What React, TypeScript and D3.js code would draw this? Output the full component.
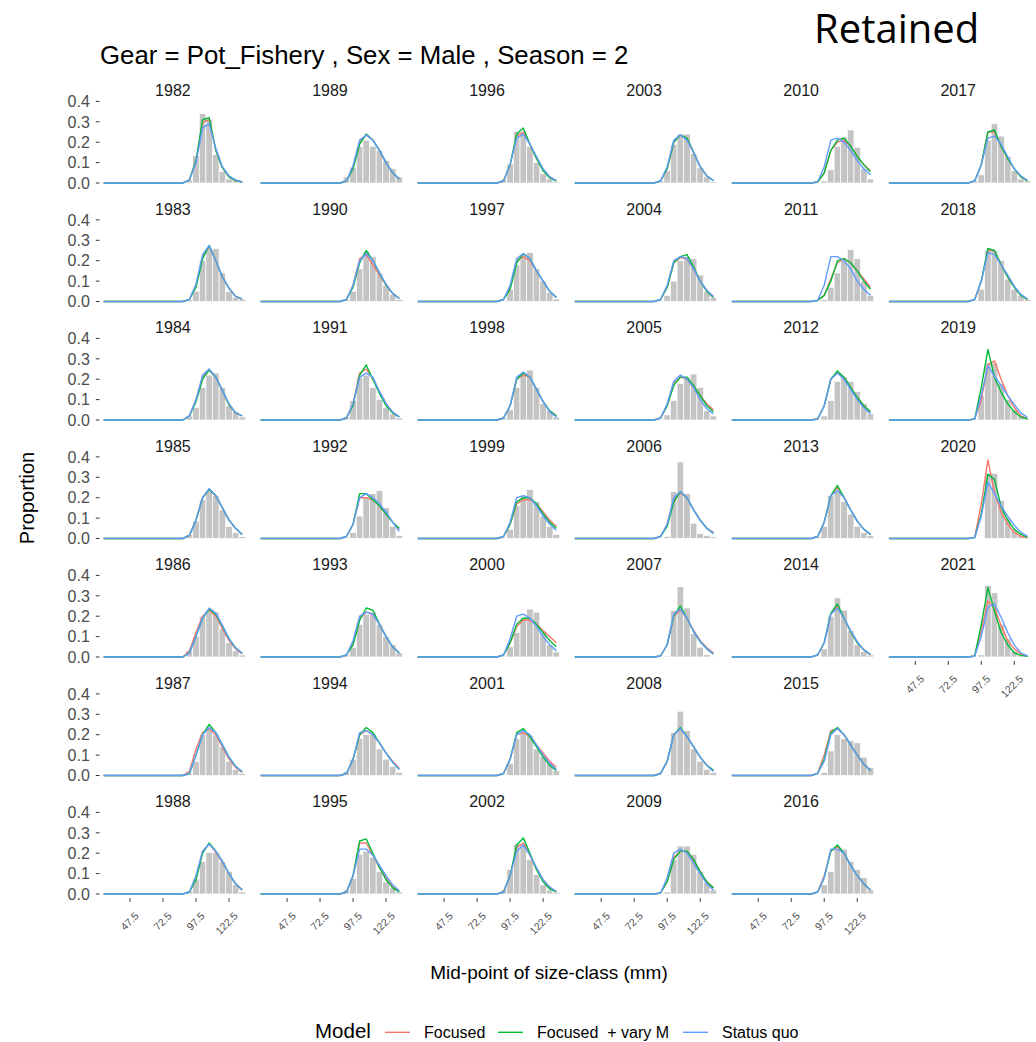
import React from 'react';
import * as d3 from 'd3';

// Size-class mid-points (mm)
const sizeClasses = [
  27.5, 32.5, 37.5, 42.5, 47.5, 52.5, 57.5, 62.5, 67.5, 72.5, 77.5,
  82.5, 87.5, 92.5, 97.5, 102.5, 107.5, 112.5, 117.5, 122.5, 127.5, 132.5,
];
const classWidth = 5;
const xTicks = [47.5, 72.5, 97.5, 122.5];
const yTicks = [0, 0.1, 0.2, 0.3, 0.4];

const years = [
  1982, 1983, 1984, 1985, 1986, 1987, 1988,
  1989, 1990, 1991, 1992, 1993, 1994, 1995,
  1996, 1997, 1998, 1999, 2000, 2001, 2002,
  2003, 2004, 2005, 2006, 2007, 2008, 2009,
  2010, 2011, 2012, 2013, 2014, 2015, 2016,
  2017, 2018, 2019, 2020, 2021,
];

// Proportions for classes 87.5 ... 132.5; all smaller classes are zero.
const observed: Record<number, number[]> = {
  1982: [0, 0.015, 0.135, 0.34, 0.31, 0.14, 0.057, 0.02, 0.015, 0.005],
  1983: [0, 0.01, 0.05, 0.2, 0.26, 0.26, 0.14, 0.05, 0.02, 0.01],
  1984: [0, 0.02, 0.06, 0.16, 0.22, 0.23, 0.16, 0.07, 0.04, 0.015],
  1985: [0, 0.02, 0.085, 0.19, 0.23, 0.21, 0.14, 0.06, 0.03, 0.01],
  1986: [0, 0.03, 0.1, 0.2, 0.23, 0.22, 0.14, 0.07, 0.03, 0.01],
  1987: [0.005, 0.01, 0.07, 0.2, 0.23, 0.2, 0.14, 0.07, 0.03, 0.01],
  1988: [0, 0.015, 0.073, 0.16, 0.204, 0.204, 0.16, 0.11, 0.045, 0.01],
  1989: [0, 0.03, 0.075, 0.18, 0.21, 0.18, 0.16, 0.11, 0.07, 0.03],
  1990: [0, 0.01, 0.05, 0.16, 0.245, 0.22, 0.14, 0.08, 0.035, 0.01],
  1991: [0, 0.015, 0.095, 0.21, 0.22, 0.16, 0.1, 0.06, 0.03, 0.01],
  1992: [0, 0.005, 0.03, 0.11, 0.2, 0.22, 0.235, 0.15, 0.06, 0.015],
  1993: [0, 0.01, 0.045, 0.16, 0.21, 0.22, 0.16, 0.1, 0.06, 0.02],
  1994: [0.005, 0.02, 0.08, 0.18, 0.2, 0.2, 0.13, 0.08, 0.045, 0.015],
  1995: [0, 0.02, 0.075, 0.195, 0.21, 0.18, 0.11, 0.06, 0.03, 0.01],
  1996: [0, 0.018, 0.093, 0.254, 0.25, 0.18, 0.1, 0.045, 0.02, 0.008],
  1997: [0, 0.005, 0.06, 0.18, 0.23, 0.24, 0.16, 0.1, 0.045, 0.012],
  1998: [0, 0.01, 0.05, 0.16, 0.225, 0.245, 0.16, 0.08, 0.045, 0.015],
  1999: [0, 0.005, 0.045, 0.16, 0.21, 0.24, 0.18, 0.11, 0.06, 0.02],
  2000: [0, 0.005, 0.05, 0.12, 0.195, 0.235, 0.22, 0.12, 0.06, 0.025],
  2001: [0, 0.005, 0.06, 0.18, 0.21, 0.195, 0.13, 0.095, 0.06, 0.025],
  2002: [0, 0.02, 0.12, 0.245, 0.245, 0.17, 0.095, 0.045, 0.02, 0.008],
  2003: [0, 0.01, 0.06, 0.19, 0.24, 0.24, 0.145, 0.075, 0.03, 0.008],
  2004: [0, 0.005, 0.03, 0.1, 0.2, 0.22, 0.21, 0.13, 0.05, 0.02],
  2005: [0, 0.005, 0.025, 0.095, 0.18, 0.21, 0.225, 0.16, 0.045, 0.02],
  2006: [0, 0, 0.01, 0.23, 0.375, 0.22, 0.075, 0.025, 0.015, 0.008],
  2007: [0, 0, 0.005, 0.228, 0.344, 0.24, 0.116, 0.048, 0.011, 0.004],
  2008: [0, 0, 0.005, 0.21, 0.315, 0.22, 0.13, 0.07, 0.03, 0.015],
  2009: [0, 0, 0.01, 0.17, 0.235, 0.235, 0.195, 0.11, 0.055, 0.02],
  2010: [0, 0, 0.01, 0.065, 0.18, 0.225, 0.26, 0.175, 0.07, 0.02],
  2011: [0, 0, 0.01, 0.07, 0.14, 0.2, 0.255, 0.21, 0.1, 0.03],
  2012: [0, 0, 0.02, 0.095, 0.19, 0.21, 0.19, 0.14, 0.08, 0.03],
  2013: [0, 0.01, 0.06, 0.21, 0.23, 0.18, 0.12, 0.06, 0.03, 0.015],
  2014: [0, 0, 0.04, 0.2, 0.29, 0.23, 0.13, 0.06, 0.027, 0.01],
  2015: [0, 0, 0.015, 0.12, 0.2, 0.18, 0.17, 0.16, 0.09, 0.04],
  2016: [0, 0, 0.045, 0.11, 0.22, 0.22, 0.16, 0.12, 0.08, 0.02],
  2017: [0, 0.01, 0.04, 0.21, 0.29, 0.23, 0.13, 0.06, 0.02, 0.01],
  2018: [0, 0.005, 0.06, 0.25, 0.25, 0.2, 0.11, 0.06, 0.03, 0.01],
  2019: [0, 0, 0.12, 0.28, 0.28, 0.18, 0.1, 0.05, 0.02, 0.005],
  2020: [0, 0, 0, 0.32, 0.32, 0.185, 0.1, 0.045, 0.015, 0.005],
  2021: [0, 0, 0.01, 0.35, 0.315, 0.16, 0.09, 0.03, 0.01, 0.005],
};

const focused: Record<number, number[]> = {
  1982: [0, 0.015, 0.11, 0.3, 0.31, 0.16, 0.075, 0.03, 0.012, 0.005],
  1983: [0, 0.01, 0.08, 0.22, 0.27, 0.2, 0.12, 0.065, 0.025, 0.012],
  1984: [0, 0.02, 0.1, 0.21, 0.245, 0.21, 0.145, 0.075, 0.035, 0.02],
  1985: [0, 0.015, 0.09, 0.2, 0.24, 0.21, 0.15, 0.09, 0.05, 0.02],
  1986: [0, 0.03, 0.12, 0.2, 0.23, 0.2, 0.14, 0.08, 0.04, 0.015],
  1987: [0, 0.02, 0.13, 0.21, 0.23, 0.2, 0.14, 0.08, 0.04, 0.015],
  1988: [0, 0.01, 0.08, 0.21, 0.245, 0.205, 0.155, 0.1, 0.05, 0.02],
  1989: [0, 0.01, 0.08, 0.2, 0.235, 0.21, 0.16, 0.1, 0.05, 0.02],
  1990: [0, 0.01, 0.08, 0.21, 0.23, 0.18, 0.13, 0.08, 0.04, 0.015],
  1991: [0, 0.01, 0.08, 0.23, 0.25, 0.2, 0.14, 0.08, 0.035, 0.015],
  1992: [0, 0.01, 0.07, 0.2, 0.2, 0.19, 0.16, 0.12, 0.08, 0.045],
  1993: [0, 0.01, 0.07, 0.19, 0.22, 0.21, 0.16, 0.1, 0.05, 0.02],
  1994: [0, 0.01, 0.08, 0.2, 0.22, 0.2, 0.16, 0.11, 0.07, 0.035],
  1995: [0, 0.01, 0.09, 0.25, 0.25, 0.19, 0.13, 0.08, 0.035, 0.012],
  1996: [0, 0.01, 0.09, 0.23, 0.25, 0.19, 0.12, 0.065, 0.03, 0.01],
  1997: [0, 0.01, 0.07, 0.2, 0.22, 0.2, 0.15, 0.1, 0.05, 0.02],
  1998: [0, 0.01, 0.07, 0.2, 0.22, 0.21, 0.15, 0.09, 0.045, 0.02],
  1999: [0, 0.01, 0.07, 0.17, 0.19, 0.19, 0.17, 0.13, 0.09, 0.06],
  2000: [0, 0.01, 0.07, 0.15, 0.18, 0.18, 0.16, 0.13, 0.1, 0.07],
  2001: [0, 0.01, 0.08, 0.2, 0.21, 0.19, 0.15, 0.11, 0.07, 0.04],
  2002: [0, 0.01, 0.09, 0.23, 0.25, 0.19, 0.12, 0.07, 0.03, 0.01],
  2003: [0, 0.01, 0.07, 0.2, 0.235, 0.22, 0.15, 0.08, 0.035, 0.012],
  2004: [0, 0.01, 0.07, 0.19, 0.215, 0.21, 0.16, 0.1, 0.055, 0.025],
  2005: [0, 0.01, 0.07, 0.18, 0.21, 0.2, 0.16, 0.12, 0.08, 0.05],
  2006: [0, 0.01, 0.07, 0.19, 0.225, 0.2, 0.14, 0.09, 0.05, 0.03],
  2007: [0, 0.005, 0.06, 0.2, 0.23, 0.19, 0.13, 0.08, 0.045, 0.02],
  2008: [0, 0.01, 0.07, 0.2, 0.23, 0.19, 0.14, 0.09, 0.05, 0.025],
  2009: [0, 0.005, 0.06, 0.18, 0.21, 0.205, 0.165, 0.11, 0.06, 0.03],
  2010: [0, 0.005, 0.05, 0.16, 0.2, 0.21, 0.18, 0.13, 0.09, 0.06],
  2011: [0, 0.005, 0.03, 0.11, 0.19, 0.21, 0.19, 0.15, 0.11, 0.07],
  2012: [0, 0.005, 0.07, 0.2, 0.23, 0.21, 0.16, 0.11, 0.07, 0.04],
  2013: [0, 0.01, 0.08, 0.21, 0.25, 0.2, 0.14, 0.085, 0.045, 0.02],
  2014: [0, 0.01, 0.07, 0.21, 0.25, 0.19, 0.125, 0.07, 0.035, 0.012],
  2015: [0, 0.01, 0.1, 0.22, 0.23, 0.2, 0.15, 0.1, 0.055, 0.025],
  2016: [0, 0.01, 0.09, 0.21, 0.23, 0.2, 0.14, 0.09, 0.05, 0.02],
  2017: [0, 0.01, 0.09, 0.25, 0.25, 0.18, 0.12, 0.07, 0.03, 0.01],
  2018: [0, 0.01, 0.1, 0.25, 0.25, 0.18, 0.12, 0.07, 0.03, 0.01],
  2019: [0, 0.005, 0.1, 0.27, 0.29, 0.2, 0.12, 0.06, 0.02, 0.005],
  2020: [0, 0.005, 0.17, 0.385, 0.225, 0.13, 0.07, 0.03, 0.01, 0.004],
  2021: [0, 0.005, 0.13, 0.275, 0.24, 0.155, 0.08, 0.04, 0.015, 0.005],
};

const focusedVaryM: Record<number, number[]> = {
  1982: [0, 0.015, 0.11, 0.31, 0.32, 0.16, 0.075, 0.03, 0.012, 0.005],
  1983: [0, 0.01, 0.07, 0.21, 0.275, 0.2, 0.12, 0.065, 0.025, 0.012],
  1984: [0, 0.02, 0.09, 0.2, 0.245, 0.21, 0.145, 0.075, 0.035, 0.02],
  1985: [0, 0.015, 0.09, 0.2, 0.24, 0.21, 0.15, 0.09, 0.05, 0.02],
  1986: [0, 0.02, 0.1, 0.19, 0.235, 0.21, 0.15, 0.09, 0.045, 0.018],
  1987: [0, 0.01, 0.1, 0.2, 0.25, 0.21, 0.15, 0.09, 0.045, 0.018],
  1988: [0, 0.01, 0.07, 0.2, 0.25, 0.21, 0.16, 0.1, 0.05, 0.02],
  1989: [0, 0.01, 0.07, 0.19, 0.24, 0.21, 0.16, 0.1, 0.05, 0.02],
  1990: [0, 0.01, 0.07, 0.19, 0.25, 0.2, 0.14, 0.08, 0.04, 0.015],
  1991: [0, 0.01, 0.07, 0.22, 0.27, 0.2, 0.13, 0.07, 0.035, 0.015],
  1992: [0, 0.01, 0.07, 0.22, 0.22, 0.19, 0.16, 0.12, 0.08, 0.05],
  1993: [0, 0.01, 0.06, 0.18, 0.24, 0.23, 0.16, 0.1, 0.05, 0.02],
  1994: [0, 0.01, 0.08, 0.2, 0.235, 0.21, 0.16, 0.11, 0.065, 0.03],
  1995: [0, 0.01, 0.09, 0.26, 0.27, 0.2, 0.13, 0.07, 0.03, 0.01],
  1996: [0, 0.01, 0.09, 0.24, 0.27, 0.19, 0.12, 0.06, 0.025, 0.01],
  1997: [0, 0.01, 0.06, 0.19, 0.235, 0.21, 0.15, 0.1, 0.05, 0.02],
  1998: [0, 0.01, 0.07, 0.2, 0.23, 0.21, 0.15, 0.09, 0.045, 0.02],
  1999: [0, 0.01, 0.07, 0.18, 0.2, 0.2, 0.17, 0.12, 0.08, 0.05],
  2000: [0, 0.01, 0.07, 0.16, 0.19, 0.19, 0.16, 0.12, 0.08, 0.05],
  2001: [0, 0.01, 0.08, 0.21, 0.23, 0.19, 0.14, 0.09, 0.05, 0.025],
  2002: [0, 0.01, 0.09, 0.24, 0.275, 0.2, 0.12, 0.06, 0.025, 0.01],
  2003: [0, 0.01, 0.07, 0.2, 0.235, 0.22, 0.15, 0.08, 0.035, 0.012],
  2004: [0, 0.01, 0.07, 0.19, 0.22, 0.23, 0.17, 0.1, 0.05, 0.02],
  2005: [0, 0.01, 0.07, 0.17, 0.21, 0.21, 0.17, 0.12, 0.07, 0.04],
  2006: [0, 0.01, 0.06, 0.18, 0.23, 0.2, 0.14, 0.09, 0.05, 0.025],
  2007: [0, 0.005, 0.06, 0.2, 0.25, 0.19, 0.125, 0.075, 0.04, 0.015],
  2008: [0, 0.01, 0.07, 0.2, 0.235, 0.19, 0.14, 0.09, 0.05, 0.025],
  2009: [0, 0.005, 0.06, 0.17, 0.21, 0.21, 0.17, 0.11, 0.06, 0.03],
  2010: [0, 0.005, 0.05, 0.16, 0.21, 0.22, 0.18, 0.13, 0.09, 0.055],
  2011: [0, 0.005, 0.03, 0.1, 0.2, 0.21, 0.19, 0.15, 0.1, 0.06],
  2012: [0, 0.005, 0.07, 0.2, 0.24, 0.21, 0.16, 0.11, 0.07, 0.04],
  2013: [0, 0.01, 0.08, 0.21, 0.26, 0.2, 0.14, 0.085, 0.045, 0.02],
  2014: [0, 0.01, 0.07, 0.215, 0.26, 0.19, 0.125, 0.07, 0.035, 0.012],
  2015: [0, 0.01, 0.08, 0.21, 0.235, 0.2, 0.15, 0.1, 0.055, 0.025],
  2016: [0, 0.01, 0.08, 0.21, 0.24, 0.2, 0.14, 0.09, 0.05, 0.02],
  2017: [0, 0.01, 0.09, 0.25, 0.26, 0.18, 0.12, 0.07, 0.03, 0.01],
  2018: [0, 0.01, 0.1, 0.26, 0.25, 0.18, 0.12, 0.07, 0.03, 0.01],
  2019: [0, 0.005, 0.16, 0.345, 0.21, 0.137, 0.08, 0.04, 0.015, 0.005],
  2020: [0, 0.005, 0.12, 0.315, 0.29, 0.155, 0.09, 0.045, 0.02, 0.005],
  2021: [0, 0.005, 0.16, 0.34, 0.225, 0.12, 0.06, 0.02, 0.008, 0.003],
};

const statusQuo: Record<number, number[]> = {
  1982: [0, 0.015, 0.1, 0.27, 0.29, 0.17, 0.08, 0.035, 0.015, 0.005],
  1983: [0, 0.01, 0.085, 0.23, 0.275, 0.2, 0.12, 0.065, 0.025, 0.012],
  1984: [0, 0.02, 0.1, 0.22, 0.25, 0.21, 0.145, 0.08, 0.035, 0.02],
  1985: [0, 0.015, 0.09, 0.2, 0.245, 0.21, 0.15, 0.09, 0.05, 0.02],
  1986: [0, 0.02, 0.1, 0.19, 0.24, 0.215, 0.155, 0.09, 0.045, 0.018],
  1987: [0, 0.01, 0.1, 0.2, 0.235, 0.21, 0.15, 0.09, 0.045, 0.018],
  1988: [0, 0.01, 0.09, 0.21, 0.245, 0.21, 0.16, 0.1, 0.05, 0.02],
  1989: [0, 0.01, 0.085, 0.21, 0.235, 0.21, 0.16, 0.1, 0.05, 0.02],
  1990: [0, 0.01, 0.08, 0.2, 0.235, 0.2, 0.14, 0.085, 0.04, 0.015],
  1991: [0, 0.01, 0.08, 0.21, 0.23, 0.21, 0.14, 0.08, 0.04, 0.015],
  1992: [0, 0.01, 0.07, 0.2, 0.22, 0.2, 0.17, 0.13, 0.08, 0.035],
  1993: [0, 0.01, 0.08, 0.2, 0.22, 0.21, 0.16, 0.1, 0.05, 0.02],
  1994: [0, 0.01, 0.08, 0.21, 0.22, 0.2, 0.16, 0.11, 0.065, 0.03],
  1995: [0, 0.01, 0.09, 0.22, 0.22, 0.19, 0.14, 0.09, 0.045, 0.015],
  1996: [0, 0.01, 0.09, 0.22, 0.24, 0.19, 0.13, 0.07, 0.03, 0.012],
  1997: [0, 0.01, 0.08, 0.21, 0.235, 0.21, 0.15, 0.1, 0.05, 0.02],
  1998: [0, 0.01, 0.07, 0.21, 0.235, 0.21, 0.15, 0.09, 0.04, 0.015],
  1999: [0, 0.01, 0.08, 0.2, 0.21, 0.2, 0.16, 0.11, 0.07, 0.04],
  2000: [0, 0.01, 0.09, 0.2, 0.21, 0.19, 0.15, 0.1, 0.06, 0.03],
  2001: [0, 0.01, 0.08, 0.2, 0.22, 0.2, 0.15, 0.1, 0.06, 0.03],
  2002: [0, 0.01, 0.09, 0.21, 0.24, 0.19, 0.13, 0.07, 0.035, 0.012],
  2003: [0, 0.01, 0.08, 0.21, 0.235, 0.21, 0.15, 0.08, 0.035, 0.012],
  2004: [0, 0.01, 0.08, 0.2, 0.22, 0.21, 0.16, 0.1, 0.055, 0.025],
  2005: [0, 0.01, 0.08, 0.19, 0.22, 0.2, 0.16, 0.1, 0.055, 0.03],
  2006: [0, 0.01, 0.07, 0.2, 0.23, 0.2, 0.14, 0.09, 0.05, 0.025],
  2007: [0, 0.005, 0.06, 0.21, 0.235, 0.19, 0.125, 0.075, 0.04, 0.015],
  2008: [0, 0.01, 0.07, 0.2, 0.23, 0.19, 0.14, 0.09, 0.05, 0.02],
  2009: [0, 0.005, 0.08, 0.2, 0.22, 0.2, 0.15, 0.1, 0.05, 0.02],
  2010: [0, 0.005, 0.08, 0.21, 0.22, 0.2, 0.16, 0.11, 0.07, 0.04],
  2011: [0, 0.005, 0.08, 0.22, 0.22, 0.2, 0.16, 0.1, 0.06, 0.03],
  2012: [0, 0.005, 0.07, 0.2, 0.23, 0.2, 0.15, 0.1, 0.06, 0.03],
  2013: [0, 0.01, 0.08, 0.21, 0.235, 0.2, 0.14, 0.085, 0.045, 0.02],
  2014: [0, 0.01, 0.07, 0.21, 0.24, 0.19, 0.13, 0.075, 0.035, 0.012],
  2015: [0, 0.01, 0.07, 0.2, 0.23, 0.2, 0.15, 0.1, 0.055, 0.025],
  2016: [0, 0.01, 0.08, 0.22, 0.22, 0.2, 0.14, 0.09, 0.05, 0.02],
  2017: [0, 0.01, 0.09, 0.22, 0.23, 0.19, 0.13, 0.07, 0.035, 0.012],
  2018: [0, 0.01, 0.1, 0.24, 0.23, 0.18, 0.13, 0.075, 0.035, 0.012],
  2019: [0, 0.005, 0.12, 0.265, 0.215, 0.17, 0.12, 0.075, 0.035, 0.012],
  2020: [0, 0.005, 0.11, 0.275, 0.22, 0.16, 0.11, 0.065, 0.03, 0.01],
  2021: [0, 0.005, 0.1, 0.245, 0.26, 0.195, 0.12, 0.058, 0.02, 0.006],
};

const modelNames = ['Focused', 'Focused  + vary M', 'Status quo'];
const modelColors = ['#F8766D', '#00BA38', '#619CFF'];
const modelSeries = [focused, focusedVaryM, statusQuo];

// Layout
const W = 1036;
const H = 1042;
const nRows = 7;
const panelLeft0 = 100.3;
const colPitch = 157.06;
const rowPitch = 118.5;
const pxPerMm = 1.32;
const pxPerUnit = 204;
const xDomain: [number, number] = [25, 135];
const yDomain: [number, number] = [-0.02, 0.405];
const panelW = (xDomain[1] - xDomain[0]) * pxPerMm;
const panelH = (yDomain[1] - yDomain[0]) * pxPerUnit;
const panelTop0 = 183 - yDomain[1] * pxPerUnit;

const FONT = '"Liberation Sans", Arial, Helvetica, sans-serif';

// Expand a tail series (87.5 ... 132.5) to every size class, zero below.
function fullSeries(tail: number[]): number[] {
  const offset = sizeClasses.length - tail.length;
  return sizeClasses.map((_, i) => (i >= offset ? tail[i - offset] : 0));
}

const x = d3.scaleLinear().domain(xDomain).range([0, panelW]);
const y = d3.scaleLinear().domain(yDomain).range([panelH, 0]);

const lineGen = d3
  .line<[number, number]>()
  .x((d) => x(d[0]))
  .y((d) => y(d[1]));

function Panel({ year, index }: { year: number; index: number }) {
  const col = Math.floor(index / nRows);
  const row = index % nRows;
  const left = panelLeft0 + col * colPitch;
  const top = panelTop0 + row * rowPitch;
  const showY = col === 0;
  const isLastInCol = row === nRows - 1 || index === years.length - 1;

  const bars = fullSeries(observed[year])
    .map((v, i) => ({ s: sizeClasses[i], v }))
    .filter((d) => d.v > 0);

  return (
    <g transform={`translate(${left},${top})`}>
      <text
        x={panelW / 2}
        y={-4}
        textAnchor="middle"
        fontSize={16}
        fill="#1A1A1A"
        fontFamily={FONT}
      >
        {year}
      </text>
      {bars.map((d) => (
        <rect
          key={d.s}
          x={x(d.s - classWidth / 2)}
          y={y(d.v)}
          width={x(d.s + classWidth / 2) - x(d.s - classWidth / 2)}
          height={y(0) - y(d.v)}
          fill="#C4C4C4"
          stroke="#FFFFFF"
          strokeWidth={0.7}
        />
      ))}
      {modelSeries.map((series, m) => {
        const pts = fullSeries(series[year]).map(
          (v, i) => [sizeClasses[i], v] as [number, number]
        );
        return (
          <path
            key={m}
            d={lineGen(pts) || ''}
            fill="none"
            stroke={modelColors[m]}
            strokeWidth={1.4}
            strokeLinejoin="round"
          />
        );
      })}
      {showY && (
        <g>
          {yTicks.map((t) => (
            <g key={t} transform={`translate(0,${y(t)})`}>
              <line x1={-4.5} x2={-0.8} stroke="#333333" strokeWidth={1} />
              <text
                x={-10.5}
                dy="0.36em"
                textAnchor="end"
                fontSize={16}
                fill="#4D4D4D"
                fontFamily={FONT}
              >
                {t.toFixed(1)}
              </text>
            </g>
          ))}
        </g>
      )}
      {isLastInCol && (
        <g transform={`translate(0,${panelH})`}>
          {xTicks.map((t) => (
            <g key={t} transform={`translate(${x(t)},0)`}>
              <line y1={0} y2={3.7} stroke="#333333" strokeWidth={1} />
              <text
                transform="translate(9.5,18.5) rotate(-45)"
                textAnchor="end"
                fontSize={10.5}
                fill="#4D4D4D"
                fontFamily={FONT}
              >
                {t.toFixed(1)}
              </text>
            </g>
          ))}
        </g>
      )}
    </g>
  );
}

export default function App() {
  const legendY = 1032.3;
  const legendItems = [
    { keyX: 385, labelX: 424 },
    { keyX: 498, labelX: 537 },
    { keyX: 683, labelX: 722 },
  ];
  return (
    <svg
      width={W}
      height={H}
      viewBox={`0 0 ${W} ${H}`}
      style={{ position: 'absolute', left: 0, top: 0, background: '#FFFFFF' }}
    >
      <rect width={W} height={H} fill="#FFFFFF" />
      <text
        x={814}
        y={43}
        fontSize={40}
        fontFamily='"Open Sans", "Liberation Sans", sans-serif'
        fill="#000000"
      >
        Retained
      </text>
      <text x={100} y={64} fontSize={25.8} fontFamily={FONT} fill="#000000">
        Gear = Pot_Fishery , Sex = Male , Season = 2
      </text>
      {years.map((yr, i) => (
        <Panel key={yr} year={yr} index={i} />
      ))}
      <text
        transform="translate(34,498) rotate(-90)"
        textAnchor="middle"
        fontSize={20}
        fontFamily={FONT}
        fill="#000000"
      >
        Proportion
      </text>
      <text
        x={549}
        y={978.5}
        textAnchor="middle"
        fontSize={19}
        fontFamily={FONT}
        fill="#000000"
      >
        Mid-point of size-class (mm)
      </text>
      <text x={315} y={1037.5} fontSize={20.5} fontFamily={FONT} fill="#000000">
        Model
      </text>
      {legendItems.map((it, i) => (
        <g key={i}>
          <line
            x1={it.keyX}
            x2={it.keyX + 25}
            y1={legendY}
            y2={legendY}
            stroke={modelColors[i]}
            strokeWidth={1.4}
          />
          <text
            x={it.labelX}
            y={legendY + 5.5}
            fontSize={16}
            fontFamily={FONT}
            fill="#000000"
            style={{ whiteSpace: 'pre' }}
          >
            {modelNames[i]}
          </text>
        </g>
      ))}
    </svg>
  );
}
